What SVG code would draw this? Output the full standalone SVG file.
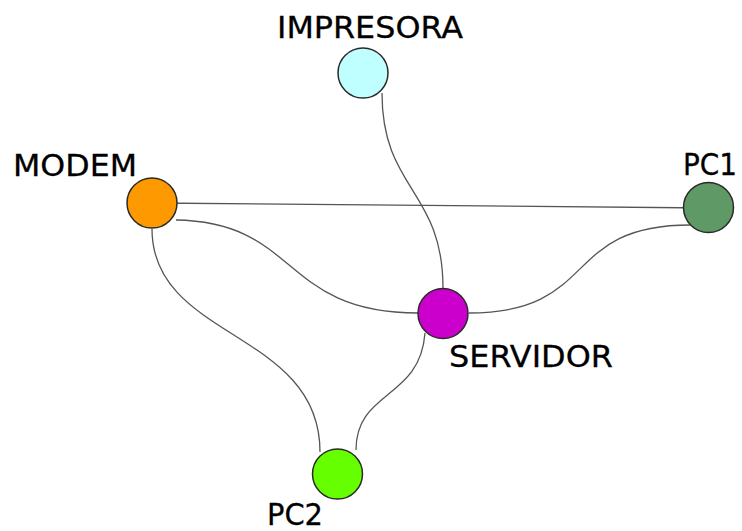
<svg xmlns="http://www.w3.org/2000/svg" width="742" height="531" viewBox="0 0 742 531">
<style>
.edge{fill:none;stroke:#555;stroke-width:1.3}
.node{stroke:#2a2a2a;stroke-width:1.5}
.lbl{font-family:"DejaVu Sans",Verdana,sans-serif;font-size:31px;fill:#000;stroke:#000;stroke-width:0.3}
</style>
<rect width="742" height="531" fill="#fff"/>
<g id="edges">
<path class="edge" d="M152 203 L709 208"/>
<path class="edge" d="M176 220 C300 222 280 313 418 313"/>
<path class="edge" d="M152 229 C152 340 320 330 320 452"/>
<path class="edge" d="M425 333 C420 400 356 390 356 450"/>
<path class="edge" d="M382 93 C382 190 443 190 443 288"/>
<path class="edge" d="M469 313 C600 313 560 225 690 225"/>
</g>
<g id="impresora"><circle class="node" cx="363" cy="73" r="25" fill="#c0ffff"/><text class="lbl" x="277" y="38" textLength="186" lengthAdjust="spacingAndGlyphs">IMPRESORA</text></g>
<g id="modem"><circle class="node" cx="152" cy="203" r="25" fill="#ff9900"/><text class="lbl" x="13" y="176" textLength="124" lengthAdjust="spacingAndGlyphs">MODEM</text></g>
<g id="pc1"><circle class="node" cx="708.5" cy="207.5" r="25" fill="#5f9965"/><text class="lbl" x="683" y="175" textLength="54" lengthAdjust="spacingAndGlyphs">PC1</text></g>
<g id="servidor"><circle class="node" cx="443" cy="313.5" r="25" fill="#cc00cc"/><text class="lbl" x="449" y="367" textLength="164" lengthAdjust="spacingAndGlyphs">SERVIDOR</text></g>
<g id="pc2"><circle class="node" cx="337.5" cy="474" r="25" fill="#66ff00"/><text class="lbl" x="267" y="525" textLength="56" lengthAdjust="spacingAndGlyphs">PC2</text></g>
</svg>
